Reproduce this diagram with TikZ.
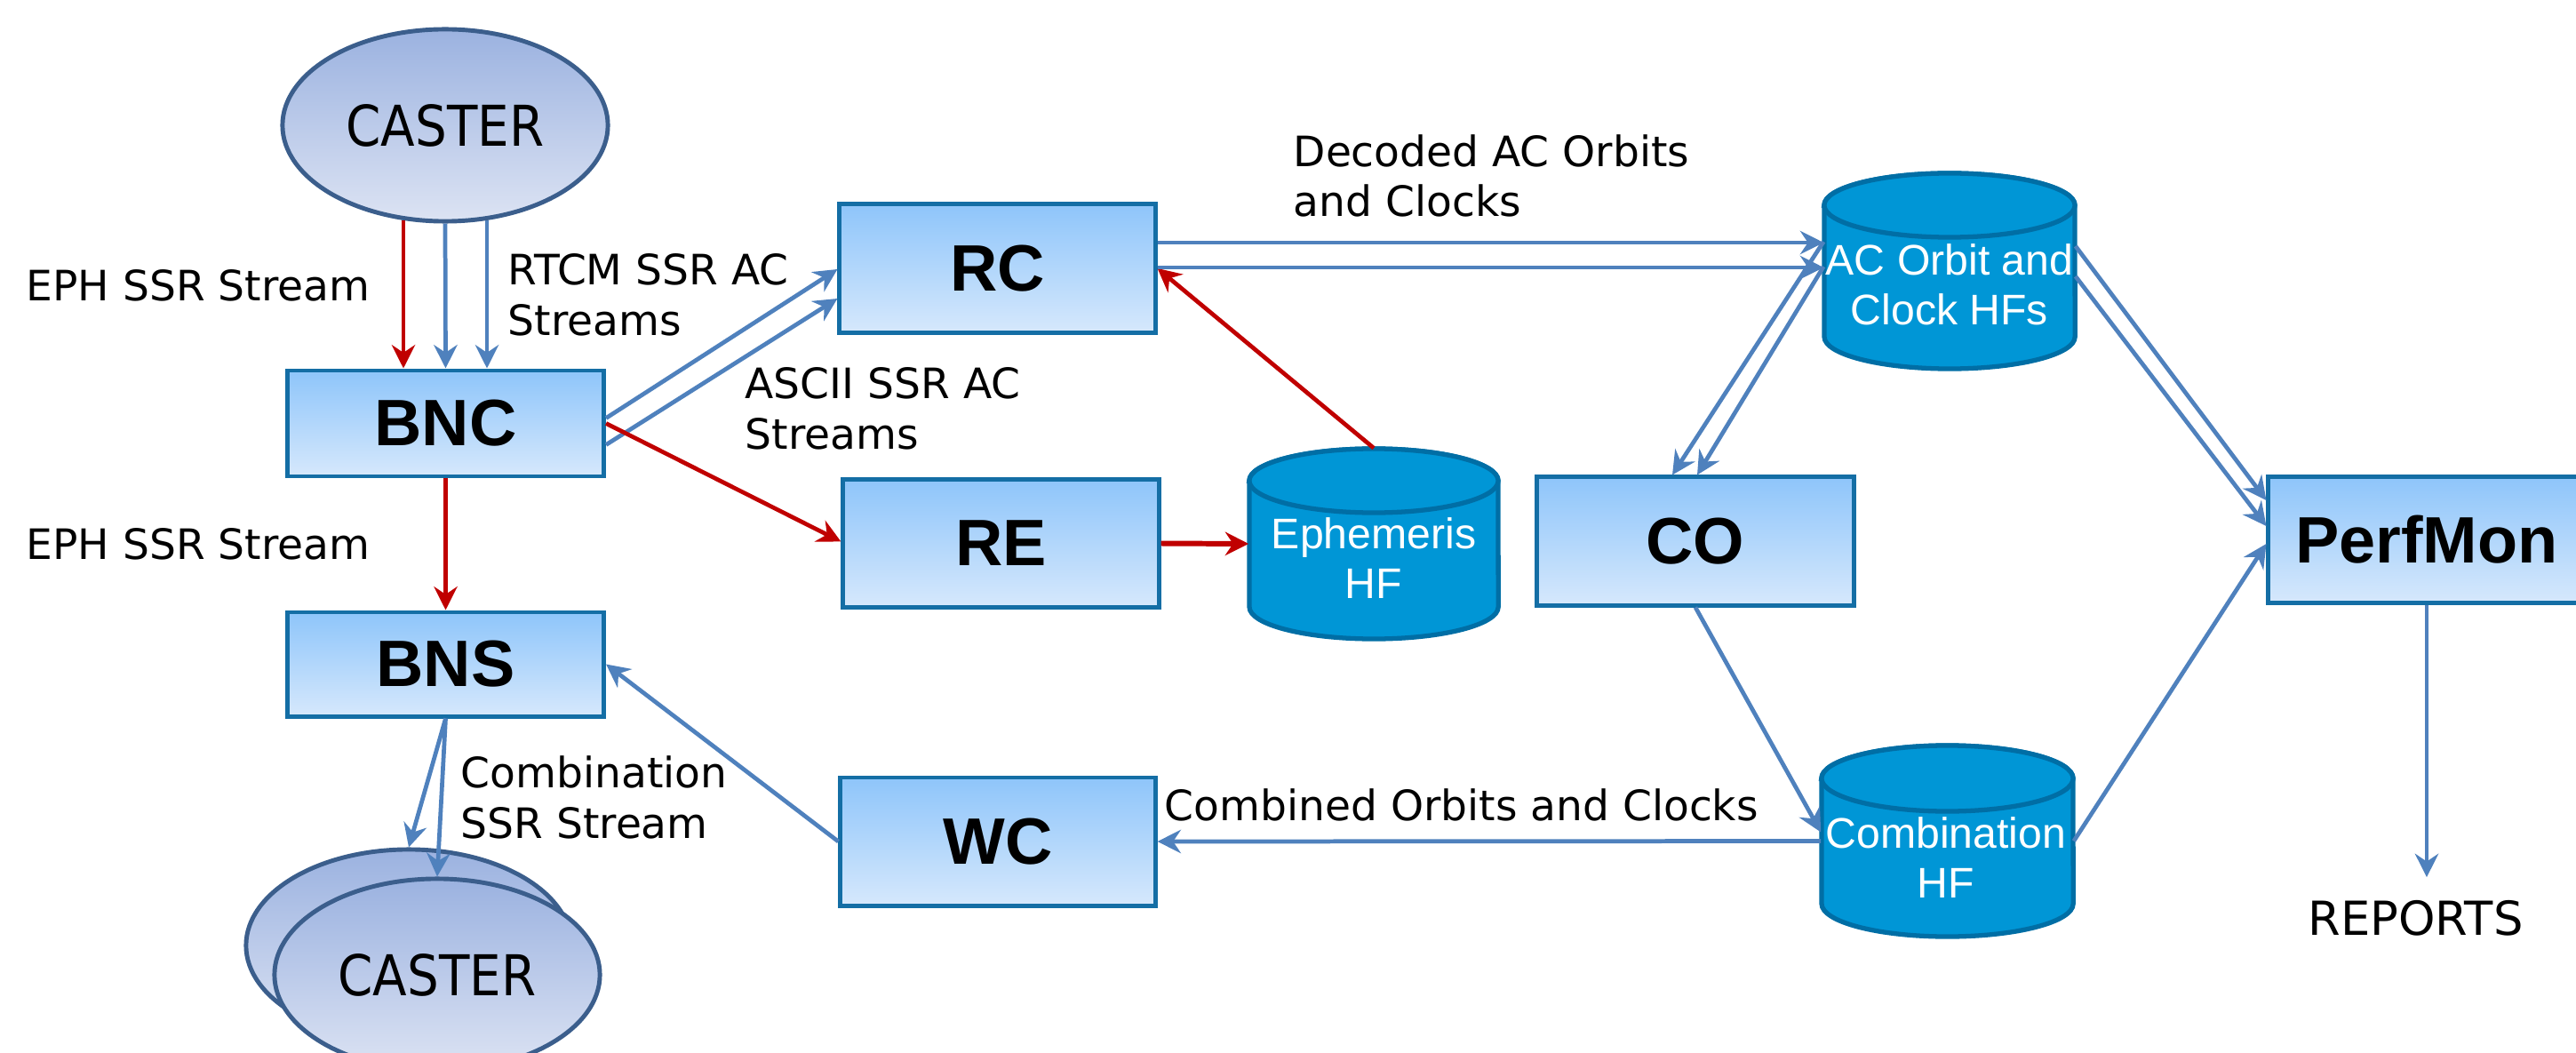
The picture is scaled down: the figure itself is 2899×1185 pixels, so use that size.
\documentclass[tikz,border=0pt]{standalone}
\usepackage{fontspec}
\setmainfont{DejaVu Sans}
\newfontfamily\arialf{Liberation Sans}
\usetikzlibrary{arrows.meta,calc,shapes.geometric}
\definecolor{arrblue}{RGB}{79,129,189}
\definecolor{arrred}{RGB}{192,0,0}
\definecolor{boxtop}{RGB}{142,197,250}
\definecolor{boxbot}{RGB}{214,232,252}
\definecolor{boxline}{RGB}{20,110,165}
\definecolor{casttop}{RGB}{155,178,224}
\definecolor{castbot}{RGB}{220,227,243}
\definecolor{castline}{RGB}{59,94,140}
\definecolor{cylfillc}{RGB}{0,150,214}
\definecolor{cyllinec}{RGB}{0,110,165}
\begin{document}
\begin{tikzpicture}[x=0.01cm,y=-0.01cm,
 procbox/.style={rectangle, draw=boxline, line width=1.4pt, top color=boxtop, bottom color=boxbot,
   minimum width=3.56cm, minimum height=1.44cm, inner sep=0pt,
   font=\arialf\bfseries\fontsize{21}{24}\selectfont},
 caster/.style={ellipse, draw=castline, line width=1.4pt, top color=casttop, bottom color=castbot,
   minimum width=3.66cm, minimum height=2.16cm, inner sep=0pt, font=\fontsize{18}{20}\selectfont},
 cylbody/.style={fill=cylfillc, draw=cyllinec, line width=1.5pt},
 cylanchor/.style={rectangle, draw=none, inner sep=0pt},
 cyltext/.style={text=white, align=center, inner sep=0pt, font=\arialf\fontsize{13.7}{15.8}\selectfont},
 lbl/.style={anchor=base west, inner sep=0pt, align=left, font=\fontsize{13.4}{16.2}\selectfont},
 bluearr/.style={draw=arrblue, line width=1.35pt, -{Stealth[length=7.5pt,width=7.5pt,inset=2.5pt]}},
 redarr/.style={draw=arrred, line width=1.35pt, -{Stealth[length=7.5pt,width=7.5pt,inset=2.5pt]}}
]
\useasboundingbox (0,0) rectangle (2899,1185);
\clip (0,0) rectangle (2899,1185);

% process boxes and casters
\node[caster] (castertop) at (501,141) {\scalebox{0.89}[1]{CASTER}};
\node[procbox, minimum height=1.19cm] (bnc) at (501.5,476.5) {BNC};
\node[procbox, minimum height=1.17cm] (bns) at (501.5,747.5) {BNS};
\node[caster] (casterback) at (460,1064) {};
\node[caster] (casterfront) at (492,1097) {\scalebox{0.89}[1]{CASTER}};
\node[procbox, minimum width=3.55cm] (rc) at (1122.5,302) {RC};
\node[procbox, minimum width=3.55cm, minimum height=1.43cm] (re) at (1126.5,611.5) {RE};
\node[procbox, minimum width=3.54cm] (wc) at (1123,947) {WC};
\node[procbox] (co) at (1908,609) {CO};
\node[procbox, minimum height=1.41cm] (perfmon) at (2731,607.5) {PerfMon};

% cylinders
\path[cylbody] (1406,541) -- (1406,683) arc[start angle=180,end angle=360,x radius=1.40cm,y radius=0.36cm]
  -- (1686,541) arc[start angle=0,end angle=180,x radius=1.40cm,y radius=0.36cm] -- cycle;
\draw[cylbody] (1546,541) ellipse[x radius=1.40cm,y radius=0.36cm];
\node[cylanchor, minimum width=2.8cm, minimum height=2.14cm] (eph) at (1546,612) {};
\node[cyltext] (ephtext) at (1546,628) {Ephemeris\\HF};

\path[cylbody] (2053,231) -- (2053,379) arc[start angle=180,end angle=360,x radius=1.41cm,y radius=0.36cm]
  -- (2335,231) arc[start angle=0,end angle=180,x radius=1.41cm,y radius=0.36cm] -- cycle;
\draw[cylbody] (2194,231) ellipse[x radius=1.41cm,y radius=0.36cm];
\node[cylanchor, minimum width=2.82cm, minimum height=2.2cm] (ac) at (2194,305) {};
\node[cyltext] (actext) at (2194,320) {AC Orbit and\\Clock HFs};

\path[cylbody] (2050,876) -- (2050,1017) arc[start angle=180,end angle=360,x radius=1.415cm,y radius=0.37cm]
  -- (2333,876) arc[start angle=0,end angle=180,x radius=1.415cm,y radius=0.37cm] -- cycle;
\draw[cylbody] (2191.5,876) ellipse[x radius=1.415cm,y radius=0.37cm];
\node[cylanchor, minimum width=2.83cm, minimum height=2.15cm] (comb) at (2191.5,946.5) {};
\node[cyltext] (combtext) at (2190,965) {Combination\\HF};

% labels (base anchor = baseline of last line)
\node[lbl] (l1) at (29,339) {EPH SSR Stream};
\node[lbl] (l2) at (571,377) {RTCM SSR AC\\Streams};
\node[lbl] (l3) at (838,505) {ASCII SSR AC\\Streams};
\node[lbl] (l4) at (29,629) {EPH SSR Stream};
\node[lbl] (l5) at (518,943) {Combination\\SSR Stream};
\node[lbl] (l6) at (1455,244) {Decoded AC Orbits\\and Clocks};
\node[lbl] (l7) at (1310,923) {Combined Orbits and Clocks};
\node[anchor=base, inner sep=0pt, font=\fontsize{15}{18}\selectfont] (reports) at (2718.5,1052) {REPORTS};

% connectors
\draw[redarr] ($(castertop.south)+(-47,-4)$) -- ($(bnc.north)+(-47.5,0)$);
\draw[bluearr] (castertop.south) -- (bnc.north);
\draw[bluearr] ($(castertop.south)+(47,-4)$) -- ($(bnc.north)+(46.5,0)$);
\draw[bluearr] ($(bnc.east)+(0,-6)$) -- ($(rc.west)+(0,1)$);
\draw[bluearr] ($(bnc.east)+(0,24)$) -- ($(rc.west)+(0,34)$);
\draw[redarr] (bnc.east) -- ($(re.west)+(0,-2)$);
\draw[redarr, line width=1.7pt] (re.east) -- (eph.west);
\draw[redarr] (eph.north) -- (rc.east);
\draw[bluearr] ($(rc.east)+(0,-29)$) -- ($(ac.west)+(0,-32)$);
\draw[bluearr] ($(rc.east)+(0,-1)$) -- ($(ac.west)+(0,-4)$);
\draw[bluearr] ($(ac.west)+(0,-33)$) -- ($(co.north)+(-26,0)$);
\draw[bluearr] ($(ac.west)+(0,-5)$) -- ($(co.north)+(2,0)$);
\draw[bluearr] ($(ac.east)+(0,-28)$) -- ($(perfmon.west)+(0,-44.5)$);
\draw[bluearr] ($(ac.east)+(0,6)$) -- ($(perfmon.west)+(0,-15.5)$);
\draw[bluearr] (co.south) -- ($(comb.west)+(0,-10)$);
\draw[bluearr] (comb.east) -- ($(perfmon.west)+(0,4.5)$);
\draw[bluearr] (comb.west) -- (wc.east);
\draw[bluearr] (wc.west) -- (bns.east);
\draw[redarr] (bnc.south) -- (bns.north);
\draw[bluearr] (bns.south) -- (casterback.north);
\draw[bluearr] (bns.south) -- (casterfront.north);
\draw[bluearr, shorten >=0.25cm] (perfmon.south) -- (perfmon.south |- reports.north);
\end{tikzpicture}
\end{document}
